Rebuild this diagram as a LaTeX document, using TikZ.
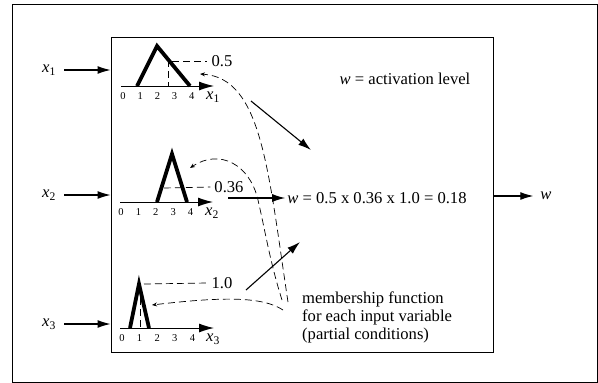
\documentclass[tikz,border=0pt]{standalone}
\usepackage{fontspec}
\setmainfont{Liberation Serif}
\usetikzlibrary{arrows.meta,positioning}
\newcommand{\vx}[1]{\textit{x}\textsubscript{#1}}
\tikzset{
  pin/.style={-{Latex[length=13pt,width=8pt]},line width=1.1pt},
  axis/.style={-{Latex[length=15pt,width=9pt]},line width=1pt},
  mf/.style={line width=3.8pt,line join=miter},
  guide/.style={dash pattern=on 7pt off 4pt,line width=0.7pt},
  tick/.style={font=\fontsize{10.5}{10.5}\selectfont,inner sep=0pt},
  txt/.style={font=\fontsize{16.6}{17.6}\selectfont,inner sep=0pt}
}
\begin{document}
\begin{tikzpicture}[x=1pt,y=-1pt]
\useasboundingbox (0,0) rectangle (598,383);
\draw[line width=0.8pt] (12,4) rectangle (597,382);
\node[draw,line width=1pt,minimum width=382pt,minimum height=315pt,inner sep=0pt] (fis) at (302,194.5) {};

% inputs
\node[txt] (x1) at (49,70) {\vx{1}};
\node[txt] (x2) at (49,195) {\vx{2}};
\node[txt] (x3) at (49,324) {\vx{3}};
\draw[pin] ([xshift=8pt]x1.east) -- (fis.west |- x1);
\draw[pin] ([xshift=8pt]x2.east) -- (fis.west |- x2);
\draw[pin] ([xshift=8pt]x3.east) -- (fis.west |- x3);

% membership functions
\draw[axis] (121,86) -- (214,86);
\foreach \k in {0,...,4} \node[tick] (ta\k) at (123+17.2*\k,96) {\k};
\node[txt] (xa) at (213,97) {\vx{1}};
\draw[mf] (137,86) -- (157,46) -- (190,86);

\draw[axis] (120,202) -- (213,202);
\foreach \k in {0,...,4} \node[tick] (tb\k) at (121+17.4*\k,212) {\k};
\node[txt] (xb) at (212,213) {\vx{2}};
\draw[mf] (157,202) -- (172,154) -- (187,202);

\draw[axis] (120,328) -- (214,328);
\foreach \k in {0,...,4} \node[tick] (tc\k) at (122+17.6*\k,338) {\k};
\node[txt] (xc) at (213,339) {\vx{3}};
\draw[mf] (130,328) -- (139,284) -- (149,328);

% degrees
\node[txt] (m1) at (222,61) {0.5};
\node[txt] (m2) at (229,187) {0.36};
\node[txt] (m3) at (222,283) {1.0};
\draw[guide] (168,60) -- (168,86);
\draw[guide] (172,61) -- ([xshift=-4pt]m1.west);
\draw[guide] (164,188) -- ([xshift=-4pt]m2.west);
\draw[guide] (140,287) -- (140,328);
\draw[guide] (144,284) -- ([xshift=-4pt]m3.west);

% notes
\node[txt] (act) at (405,79) {\textit{w} = activation level};
\node[txt] (wf) at (377,198) {\textit{w} = 0.5 x 0.36 x 1.0 = 0.18};
\node[txt,align=left,anchor=north west] (memb) at (302,292) {membership function\\for each input variable\\(partial conditions)};
\coordinate (ea) at (288,302);
\coordinate (eb) at (282,300);
\coordinate (ec) at (283,310);
\draw[guide,-{Stealth[length=5pt,width=4pt]}] (ea) .. controls (268,170) and (262,78) .. (200,74);
\draw[guide,-{Stealth[length=5pt,width=4pt]}] (eb) .. controls (270,262) and (265,230) .. (258,200) .. controls (250,165) and (220,148) .. (190,168);
\draw[guide,-{Stealth[length=5pt,width=4pt]}] (ec) .. controls (262,296) and (220,297) .. (152,305);

% rule firing
\coordinate (fa) at (251,101);
\coordinate (fb) at (311,150);
\coordinate (fc) at (228,198);
\coordinate (fd) at (246,290);
\coordinate (fe) at (300,242);
\draw[pin] (fa) -- (fb);
\draw[pin] (fc) -- ([xshift=-2pt]wf.west);
\draw[pin] (fd) -- (fe);

% output
\node[txt] (wo) at (546,196) {\textit{w}};
\draw[pin] (fis.east |- wo) -- ([xshift=-7pt]wo.west);
\end{tikzpicture}
\end{document}
